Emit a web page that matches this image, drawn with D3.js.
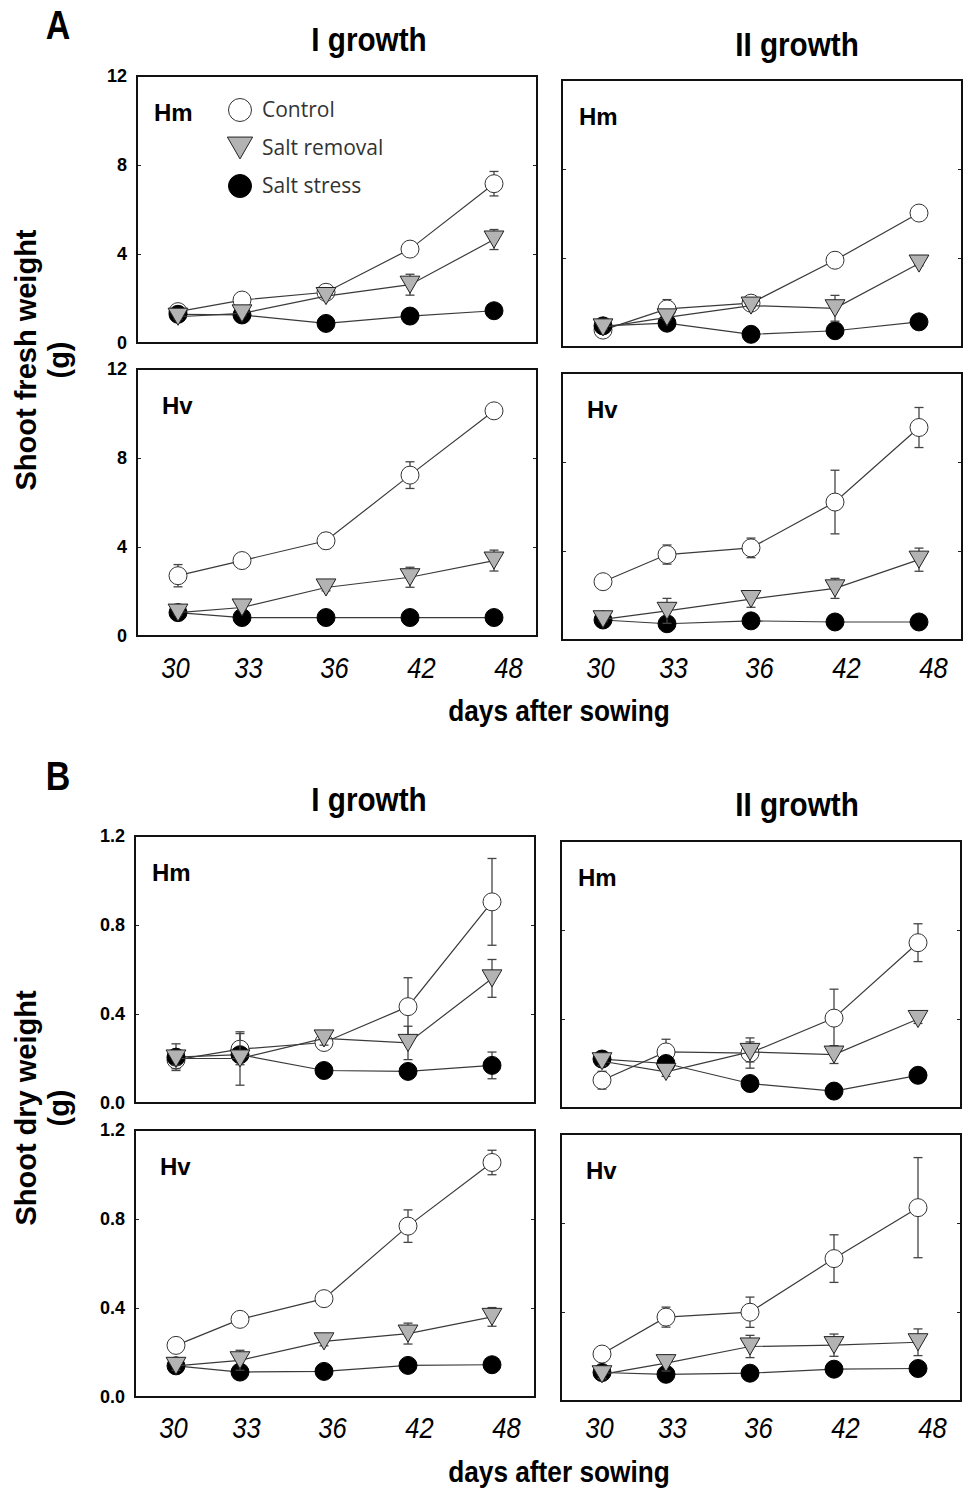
<!DOCTYPE html>
<html>
<head>
<meta charset="utf-8">
<script src="https://cdn.jsdelivr.net/npm/d3@7"></script>
<style>
body { margin: 0; background: #fff; }
</style>
</head>
<body>
<script>

// ---- data ----
var days = [30, 33, 36, 42, 48];
var seriesNames = ["Control", "Salt removal", "Salt stress"];

// fresh weight (g): rows = Control, Salt removal, Salt stress
var fwHmI_mean = [[1.41, 1.93, 2.28, 4.22, 7.16], [1.18, 1.33, 2.11, 2.62, 4.65], [1.29, 1.26, 0.88, 1.21, 1.45]];
var fwHmI_err  = [[0.10, 0.10, 0.15, 0.20, 0.55], [0.10, 0.10, 0.10, 0.47, 0.45], [0.10, 0.10, 0.10, 0.10, 0.15]];
var fwHmII_mean = [[0.76, 1.71, 1.97, 3.90, 6.02], [0.88, 1.33, 1.86, 1.74, 3.75], [0.95, 1.07, 0.57, 0.73, 1.13]];
var fwHmII_err  = [[0.10, 0.42, 0.10, 0.15, 0.20], [0.10, 0.10, 0.10, 0.58, 0.10], [0.10, 0.10, 0.10, 0.10, 0.10]];
var fwHvI_mean = [[2.71, 3.39, 4.28, 7.23, 10.12], [1.05, 1.28, 2.18, 2.64, 3.39], [1.05, 0.83, 0.83, 0.83, 0.83]];
var fwHvI_err  = [[0.50, 0.15, 0.35, 0.60, 0.20], [0.10, 0.10, 0.15, 0.45, 0.47], [0.05, 0.05, 0.05, 0.05, 0.05]];
var fwHvII_mean = [[2.62, 3.84, 4.14, 6.20, 9.55], [0.93, 1.31, 1.84, 2.32, 3.61], [0.90, 0.73, 0.86, 0.81, 0.81]];
var fwHvII_err  = [[0.10, 0.43, 0.44, 1.43, 0.90], [0.10, 0.56, 0.37, 0.45, 0.52], [0.05, 0.05, 0.05, 0.05, 0.05]];

// dry weight (g)
var dwHmI_mean = [[0.194, 0.242, 0.272, 0.433, 0.904], [0.20, 0.20, 0.29, 0.27, 0.56], [0.206, 0.217, 0.146, 0.142, 0.169]];
var dwHmI_err  = [[0.04, 0.07, 0.03, 0.13, 0.195], [0.03, 0.12, 0.03, 0.075, 0.085], [0.06, 0.02, 0.02, 0.02, 0.06]];
var dwHmII_mean = [[0.125, 0.252, 0.247, 0.404, 0.743], [0.21, 0.162, 0.252, 0.24, 0.40], [0.22, 0.20, 0.11, 0.076, 0.147]];
var dwHmII_err  = [[0.04, 0.057, 0.068, 0.13, 0.085], [0.02, 0.02, 0.045, 0.04, 0.02], [0.02, 0.02, 0.02, 0.02, 0.02]];
var dwHvI_mean = [[0.232, 0.349, 0.442, 0.768, 1.054], [0.14, 0.165, 0.25, 0.285, 0.36], [0.14, 0.112, 0.115, 0.142, 0.145]];
var dwHvI_err  = [[0.02, 0.02, 0.02, 0.073, 0.055], [0.02, 0.045, 0.02, 0.047, 0.042], [0.02, 0.02, 0.02, 0.02, 0.02]];
var dwHvII_mean = [[0.211, 0.377, 0.399, 0.64, 0.869], [0.12, 0.17, 0.245, 0.251, 0.264], [0.128, 0.12, 0.125, 0.143, 0.146]];
var dwHvII_err  = [[0.03, 0.045, 0.068, 0.107, 0.225], [0.02, 0.035, 0.05, 0.05, 0.06], [0.02, 0.02, 0.02, 0.03, 0.02]];

var fwTicks = [0, 4, 8, 12];
var dwTicks = [0, 0.4, 0.8, 1.2];

// ---- layout ----
var W = 969, H = 1490,
    panelW = 400, panelH = 267,
    // where the days fall across a panel (the original axis is unevenly spaced)
    pointFrac = [0.1025, 0.2625, 0.4725, 0.6825, 0.8925],
    labelFrac = [0.095, 0.2775, 0.4925, 0.71, 0.9275];

var ARIAL = "'Liberation Sans', Arial, sans-serif";

var blocks = [
  { letter: "A", letterY: 39, titleY: [51, 56], left: [137, 562], top: [[76, 80], [369, 373]],
    ticks: fwTicks, fmt: d3.format("d"), tickLabelY: 657, xTitleY: 721,
    yTitle: "Shoot fresh weight", yTitleY: 360,
    panels: [[fwHmI_mean, fwHmI_err, "Hm", true], [fwHmII_mean, fwHmII_err, "Hm", false],
             [fwHvI_mean, fwHvI_err, "Hv", false], [fwHvII_mean, fwHvII_err, "Hv", false]] },
  { letter: "B", letterY: 790, titleY: [811, 816], left: [135, 561], top: [[836, 841], [1130, 1134]],
    ticks: dwTicks, fmt: d3.format(".1f"), tickLabelY: 1417, xTitleY: 1482,
    yTitle: "Shoot dry weight", yTitleY: 1108,
    panels: [[dwHmI_mean, dwHmI_err, "Hm", false], [dwHmII_mean, dwHmII_err, "Hm", false],
             [dwHvI_mean, dwHvI_err, "Hv", false], [dwHvII_mean, dwHvII_err, "Hv", false]] }
];

var styles = [
  { fill: "#fff", stroke: "#333", shape: "circle" },
  { fill: "#b3b3b3", stroke: "#222", shape: "tri" },
  { fill: "#000", stroke: "#000", shape: "circle" }
];

var svg = d3.select("body").append("svg")
  .attr("width", W)
  .attr("height", H)
  .style("font-family", ARIAL);

function marker(g, shape, r) {
  if (shape == "circle")
    return g.append("circle").attr("r", r);
  var h = r * 0.95;
  return g.append("path").attr("d", "M" + (-r * 1.1) + "," + (-h) + "L" + (r * 1.1) + "," + (-h) + "L0," + h + "Z");
}

// condensed bold text (no narrow face installed, so squeeze it)
function narrowText(x, y, size, sx, t) {
  return svg.append("g").attr("transform", "translate(" + x + "," + y + ") scale(" + sx + ",1)")
    .append("text")
    .attr("text-anchor", "middle")
    .style("font-weight", "bold").style("font-size", size + "px")
    .text(t);
}

blocks.forEach(function (b) {
  narrowText(58, b.letterY, 40, 0.85, b.letter);
  narrowText(369, b.titleY[0], 33, 0.9, "I growth");
  narrowText(797, b.titleY[1], 33, 0.9, "II growth");
  narrowText(559, b.xTitleY, 30, 0.875, "days after sowing");

  // y title
  var yt = svg.append("text")
    .attr("transform", "translate(36," + b.yTitleY + ") rotate(-90)")
    .attr("text-anchor", "middle")
    .style("font-weight", "bold").style("font-size", "29px");
  yt.append("tspan").attr("x", 0).attr("dy", 0).text(b.yTitle);
  yt.append("tspan").attr("x", 0).attr("dy", "1.15em").text("(g)");

  b.panels.forEach(function (p, i) {
    var row = Math.floor(i / 2), col = i % 2;
    var x0 = b.left[col], y0 = b.top[row][col];
    var mean = p[0], err = p[1];

    var x = d3.scaleLinear().domain(days).range(pointFrac.map(function (f) { return x0 + f * panelW; }));
    var y = d3.scaleLinear().domain([0, b.ticks[b.ticks.length - 1]]).range([y0 + panelH, y0]);
    var inner = b.ticks.slice(1, -1);

    var g = svg.append("g");

    // inward ticks on both sides
    g.append("g").attr("transform", "translate(" + x0 + ",0)")
      .call(d3.axisRight(y).tickValues(inner).tickSize(4).tickFormat(""))
      .call(function (a) { a.select(".domain").remove(); a.selectAll("line").attr("stroke", "#222"); });
    g.append("g").attr("transform", "translate(" + (x0 + panelW) + ",0)")
      .call(d3.axisLeft(y).tickValues(inner).tickSize(4).tickFormat(""))
      .call(function (a) { a.select(".domain").remove(); a.selectAll("line").attr("stroke", "#222"); });

    if (col == 0) {
      g.append("g").attr("transform", "translate(" + (x0 - 10) + ",0)")
        .call(d3.axisLeft(y).tickValues(b.ticks).tickSize(0).tickPadding(0).tickFormat(b.fmt))
        .call(function (a) {
          a.select(".domain").remove();
          a.selectAll("text").style("font-family", ARIAL).style("font-weight", "bold")
            .style("font-size", "18px").attr("fill", "#000");
        });
    }

    if (row == 1) {
      var xl = d3.scaleLinear().domain(days).range(labelFrac.map(function (f) { return x0 + f * panelW; }));
      g.append("g").attr("transform", "translate(0," + b.tickLabelY + ")")
        .call(d3.axisBottom(xl).tickValues(days).tickSize(0).tickPadding(0))
        .call(function (a) {
          a.select(".domain").remove();
          a.selectAll("text").style("font-family", ARIAL).style("font-style", "italic")
            .style("font-size", "29px").attr("fill", "#000")
            .attr("transform", "scale(0.88,1)");
        });
    }

    // series: control, salt stress, then salt removal on top
    [0, 2, 1].forEach(function (s) {
      var pts = days.map(function (d, k) { return { d: d, v: mean[s][k], e: err[s][k] }; });
      var sg = g.append("g");
      sg.append("path").datum(pts)
        .attr("fill", "none").attr("stroke", "#3a3a3a").attr("stroke-width", 1.2)
        .attr("d", d3.line().x(function (d) { return x(d.d); }).y(function (d) { return y(d.v); }));
      var eb = sg.selectAll(".eb").data(pts).enter().append("g");
      eb.append("line")
        .attr("x1", function (d) { return x(d.d); }).attr("x2", function (d) { return x(d.d); })
        .attr("y1", function (d) { return y(d.v - d.e); }).attr("y2", function (d) { return y(d.v + d.e); });
      eb.append("line")
        .attr("x1", function (d) { return x(d.d) - 4.5; }).attr("x2", function (d) { return x(d.d) + 4.5; })
        .attr("y1", function (d) { return y(d.v + d.e); }).attr("y2", function (d) { return y(d.v + d.e); });
      eb.append("line")
        .attr("x1", function (d) { return x(d.d) - 4.5; }).attr("x2", function (d) { return x(d.d) + 4.5; })
        .attr("y1", function (d) { return y(d.v - d.e); }).attr("y2", function (d) { return y(d.v - d.e); });
      eb.selectAll("line").attr("stroke", "#444").attr("stroke-width", 1.3);

      pts.forEach(function (d) {
        var m = sg.append("g").attr("transform", "translate(" + x(d.d) + "," + y(d.v) + ")");
        marker(m, styles[s].shape, 9)
          .attr("fill", styles[s].fill).attr("stroke", styles[s].stroke).attr("stroke-width", 1);
      });
    });

    // frame
    g.append("rect")
      .attr("x", x0).attr("y", y0).attr("width", panelW).attr("height", panelH)
      .attr("fill", "none").attr("stroke", "#111").attr("stroke-width", 2);

    g.append("text")
      .attr("x", x0 + (p[2] == "Hm" ? 17 : 25)).attr("y", y0 + 45)
      .style("font-weight", "bold").style("font-size", "24px")
      .text(p[2]);

    if (p[3]) {
      var lg = g.append("g");
      seriesNames.forEach(function (n, s) {
        var ly = y0 + 34 + s * 38;
        var m = lg.append("g").attr("transform", "translate(" + (x0 + 103) + "," + ly + ")");
        marker(m, styles[s].shape, 11.5)
          .attr("fill", styles[s].fill).attr("stroke", styles[s].stroke).attr("stroke-width", 1);
        lg.append("text")
          .attr("x", x0 + 125).attr("y", ly + 7)
          .style("font-family", "'Open Sans', sans-serif").style("font-size", "21px")
          .attr("fill", "#333")
          .text(n);
      });
    }
  });
});

</script>
</body>
</html>
